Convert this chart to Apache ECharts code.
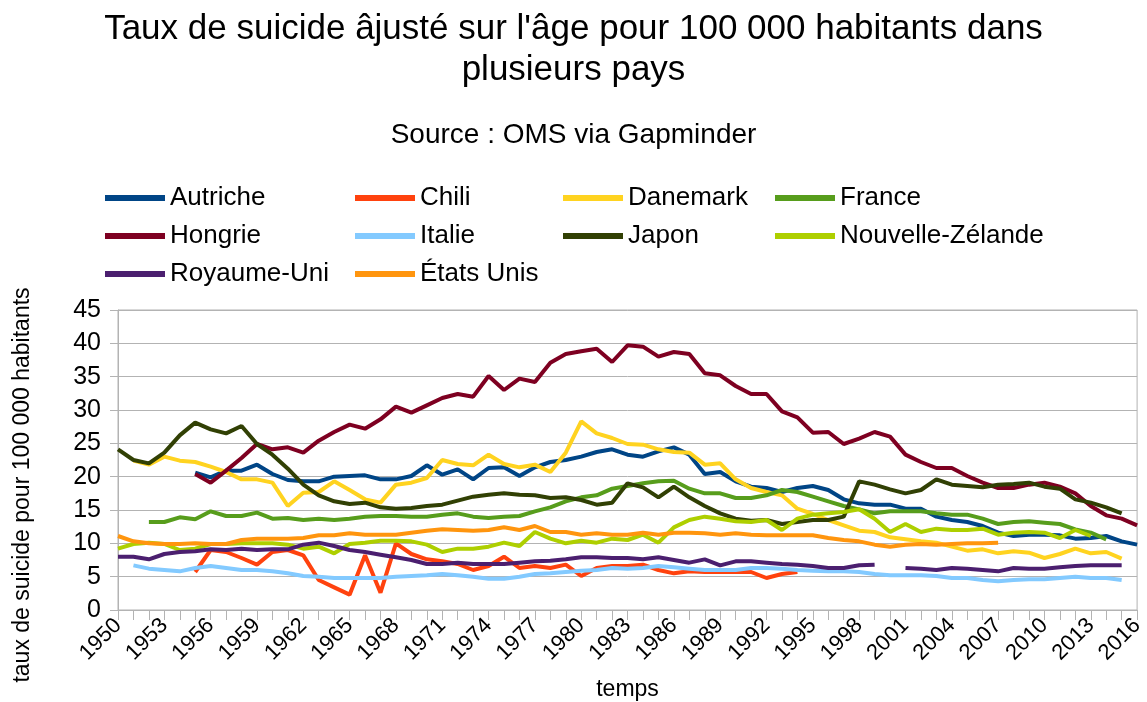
<!DOCTYPE html>
<html lang="fr" style="height: 100%">
<head>
  <meta charset="utf-8">
  <title>taux de suicide</title>
  <script src="https://cdn.jsdelivr.net/npm/echarts@6/dist/echarts.min.js"></script>
</head>
<body style="height: 100%; margin: 0; background: #fff">
<div id="main" style="width: 1147px; height: 702px"></div>

<script type="text/javascript">
  // années 1950 -> 2016
  var firstYear = 1950, lastYear = 2016;
  var years = [];
  for (var y = firstYear; y <= lastYear; y++) years.push(String(y));

  // valeurs (début de série = année indiquée)
  var autricheStart = 1955;
  var autriche = [20.6, 19.9, 20.9, 20.9, 21.8,
    20.4, 19.5, 19.3, 19.3, 20.0, 20.1, 20.2, 19.6, 19.6, 20.1,
    21.7, 20.3, 21.1, 19.6, 21.3, 21.4, 20.1, 21.4, 22.2, 22.5,
    23.0, 23.7, 24.1, 23.3, 23.0, 23.8, 24.4, 23.3, 20.4, 20.7,
    19.3, 18.5, 18.3, 17.7, 18.3, 18.6, 18.0, 16.6, 16.0, 15.8,
    15.8, 15.2, 15.2, 14.0, 13.5, 13.2, 12.6, 11.6, 11.1, 11.3,
    11.3, 11.2, 10.7, 10.8, 11.1, 10.3, 9.8];

  var chiliStart = 1955;
  var chili = [5.7, 9.0, 8.7, 7.8, 6.8,
    8.7, 9.0, 8.2, 4.5, 3.4, 2.3, 8.2, 2.6, 10.0, 8.4,
    7.6, 7.3, 6.9, 6.0, 6.6, 8.0, 6.3, 6.6, 6.3, 6.8,
    5.1, 6.3, 6.6, 6.6, 6.8, 6.0, 5.5, 5.8, 5.7, 5.7,
    5.7, 5.7, 4.8, 5.4, 5.7];

  var danemarkStart = 1951;
  var danemark = [22.4, 21.8, 23.0, 22.4, 22.2, 21.5, 20.7, 19.6, 19.6,
    19.1, 15.6, 17.6, 17.7, 19.3, 18.0, 16.6, 16.1, 18.8, 19.1,
    19.8, 22.5, 21.9, 21.7, 23.3, 21.9, 21.4, 21.8, 20.7, 23.6,
    28.3, 26.5, 25.8, 24.9, 24.8, 24.1, 23.7, 23.6, 21.8, 22.0,
    19.6, 18.3, 17.7, 17.2, 15.2, 14.4, 13.5, 12.7, 11.9, 11.7,
    10.9, 10.6, 10.3, 10.1, 9.5, 8.9, 9.1, 8.5, 8.8, 8.6,
    7.8, 8.4, 9.2, 8.5, 8.7, 7.7];

  var franceStart = 1952;
  var france = [13.2, 13.2, 13.9, 13.6, 14.8, 14.1, 14.1, 14.6,
    13.7, 13.8, 13.5, 13.7, 13.5, 13.7, 14.0, 14.1, 14.1, 14.0,
    14.0, 14.3, 14.5, 14.0, 13.8, 14.0, 14.1, 14.8, 15.4, 16.3,
    16.9, 17.2, 18.2, 18.6, 19.0, 19.3, 19.4, 18.2, 17.5, 17.5,
    16.8, 16.8, 17.2, 18.0, 17.7, 17.0, 16.3, 15.6, 15.1, 14.5,
    14.8, 14.8, 14.8, 14.5, 14.3, 14.3, 13.7, 12.9, 13.2, 13.3,
    13.1, 12.9, 12.1, 11.6, 10.6];

  var hongrieStart = 1955;
  var hongrie = [20.4, 19.1, 20.9, 22.8, 24.9,
    24.1, 24.4, 23.6, 25.4, 26.7, 27.8, 27.2, 28.6, 30.5, 29.6,
    30.7, 31.8, 32.4, 32.0, 35.1, 33.0, 34.7, 34.2, 37.1, 38.4,
    38.8, 39.2, 37.2, 39.7, 39.5, 38.0, 38.7, 38.4, 35.5, 35.2,
    33.6, 32.4, 32.4, 29.8, 28.9, 26.6, 26.7, 24.9, 25.7, 26.7,
    26.0, 23.3, 22.2, 21.3, 21.3, 20.1, 19.1, 18.3, 18.3, 18.8,
    19.1, 18.5, 17.5, 15.6, 14.2, 13.7, 12.7];

  var italieStart = 1951;
  var italie = [6.7, 6.2, 6.0, 5.8, 6.3, 6.6, 6.3, 6.0, 6.0,
    5.8, 5.5, 5.1, 5.0, 4.8, 4.8, 4.8, 4.8, 5.0, 5.1,
    5.2, 5.4, 5.2, 5.0, 4.7, 4.7, 5.0, 5.4, 5.5, 5.7,
    5.9, 6.0, 6.3, 6.2, 6.3, 6.6, 6.4, 6.2, 6.0, 6.0,
    6.0, 6.3, 6.3, 6.2, 6.0, 5.9, 5.8, 5.8, 5.7, 5.4,
    5.2, 5.2, 5.2, 5.1, 4.8, 4.8, 4.5, 4.3, 4.5, 4.6,
    4.6, 4.8, 5.0, 4.8, 4.8, 4.5];

  var japonStart = 1950;
  var japon = [24.1, 22.5, 22.0, 23.6, 26.2, 28.1, 27.1, 26.5, 27.6, 24.9,
    23.3, 21.2, 18.8, 17.2, 16.3, 15.9, 16.1, 15.4, 15.2, 15.3,
    15.6, 15.8, 16.4, 17.0, 17.3, 17.5, 17.3, 17.2, 16.8, 16.9,
    16.5, 15.8, 16.1, 19.0, 18.4, 16.9, 18.5, 16.9, 15.6, 14.5,
    13.7, 13.4, 13.5, 12.9, 13.2, 13.5, 13.5, 14.0, 19.3, 18.8,
    18.1, 17.5, 18.0, 19.6, 18.8, 18.6, 18.4, 18.8, 18.9, 19.1,
    18.5, 18.2, 16.6, 16.1, 15.4, 14.5];

  var nzStart = 1950;
  var nouvelleZelande = [9.2, 9.9, 10.1, 9.9, 9.0, 9.2, 9.9, 9.9, 10.0, 10.0,
    10.0, 9.8, 9.2, 9.5, 8.5, 9.9, 10.1, 10.4, 10.4, 10.3,
    9.8, 8.7, 9.2, 9.2, 9.5, 10.1, 9.6, 11.7, 10.7, 10.0,
    10.4, 10.1, 10.7, 10.5, 11.3, 10.1, 12.4, 13.5, 14.0, 13.7,
    13.3, 13.2, 13.5, 12.0, 13.7, 14.3, 14.5, 14.7, 15.1, 13.7,
    11.7, 12.9, 11.7, 12.2, 12.0, 12.0, 12.2, 11.3, 11.6, 11.7,
    11.6, 10.8, 12.0, 11.1];

  var ukStart = 1950;
  var royaumeUni = [8.0, 8.0, 7.6, 8.4, 8.7, 8.8, 9.1, 9.0, 9.2, 9.0,
    9.1, 9.1, 9.8, 10.1, 9.6, 9.0, 8.7, 8.3, 7.9, 7.5,
    6.9, 6.9, 7.1, 6.9, 6.9, 6.9, 7.1, 7.3, 7.4, 7.6,
    7.9, 7.9, 7.8, 7.8, 7.6, 7.9, 7.5, 7.1, 7.6, 6.7,
    7.3, 7.3, 7.1, 6.9, 6.8, 6.6, 6.3, 6.3, 6.7, 6.8,
    null, 6.3, 6.2, 6.0, 6.3, 6.2, 6.0, 5.8, 6.3, 6.2,
    6.2, 6.4, 6.6, 6.7, 6.7, 6.7];

  var usaStart = 1950;
  var etatsUnis = [11.1, 10.3, 10.0, 9.9, 9.9, 10.0, 9.9, 9.9, 10.5, 10.7,
    10.7, 10.7, 10.8, 11.2, 11.2, 11.5, 11.3, 11.3, 11.3, 11.6,
    11.9, 12.1, 12.0, 11.9, 12.0, 12.4, 12.0, 12.6, 11.7, 11.7,
    11.3, 11.5, 11.3, 11.3, 11.6, 11.3, 11.6, 11.6, 11.5, 11.3,
    11.5, 11.3, 11.2, 11.2, 11.2, 11.2, 10.8, 10.5, 10.3, 9.8,
    9.5, 9.8, 9.9, 9.8, 9.9, 10.0, 10.0, 10.1];

  var yTicks = {min: 0, max: 45, step: 5};

  // place chaque série sur l'axe des années
  function pad(start, values) {
    var out = [];
    for (var i = firstYear; i < start; i++) out.push(null);
    return out.concat(values);
  }

  var countries = [
    {name: 'Autriche', color: '#004586', data: pad(autricheStart, autriche)},
    {name: 'Chili', color: '#ff420e', data: pad(chiliStart, chili)},
    {name: 'Danemark', color: '#ffd320', data: pad(danemarkStart, danemark)},
    {name: 'France', color: '#579d1c', data: pad(franceStart, france)},
    {name: 'Hongrie', color: '#7e0021', data: pad(hongrieStart, hongrie)},
    {name: 'Italie', color: '#83caff', data: pad(italieStart, italie)},
    {name: 'Japon', color: '#314004', data: pad(japonStart, japon)},
    {name: 'Nouvelle-Zélande', color: '#aecf00', data: pad(nzStart, nouvelleZelande)},
    {name: 'Royaume-Uni', color: '#4b1f6f', data: pad(ukStart, royaumeUni)},
    {name: 'États Unis', color: '#ff950e', data: pad(usaStart, etatsUnis)}
  ];

  var font = 'Liberation Sans';
  var gridColor = '#b3b3b3';

  function legendCol(left, names) {
    return {
      orient: 'vertical',
      left: left,
      top: 185,
      padding: 0,
      itemWidth: 60,
      itemHeight: 6,
      itemGap: 12,
      icon: 'rect',
      data: names,
      textStyle: {fontFamily: font, fontSize: 26, color: '#000'}
    };
  }

  var mychart = echarts.init(document.getElementById('main'));

  mychart.setOption({
    animation: false,
    backgroundColor: '#fff',
    title: [
      {
        text: "Taux de suicide âjusté sur l'âge pour 100 000 habitants dans\nplusieurs pays",
        left: 'center',
        top: 4,
        textStyle: {fontFamily: font, fontSize: 35, fontWeight: 'normal', color: '#000', lineHeight: 41}
      },
      {
        text: 'Source : OMS via Gapminder',
        left: 'center',
        top: 116,
        textStyle: {fontFamily: font, fontSize: 28, fontWeight: 'normal', color: '#000'}
      }
    ],
    legend: [
      legendCol(105, ['Autriche', 'Hongrie', 'Royaume-Uni']),
      legendCol(355, ['Chili', 'Italie', 'États Unis']),
      legendCol(563, ['Danemark', 'Japon']),
      legendCol(775, ['France', 'Nouvelle-Zélande'])
    ],
    grid: {
      left: 118,
      right: 6,
      top: 310,
      bottom: 81,
      show: true,
      borderColor: gridColor,
      borderWidth: 1
    },
    xAxis: {
      type: 'category',
      data: years,
      boundaryGap: false,
      name: 'temps',
      nameLocation: 'middle',
      nameGap: 68,
      nameTextStyle: {fontFamily: font, fontSize: 23, color: '#000'},
      axisLine: {lineStyle: {color: gridColor}},
      axisTick: {show: true, interval: 0, length: 10, lineStyle: {color: gridColor}},
      axisLabel: {interval: 2, rotate: 45, fontFamily: font, fontSize: 22, color: '#000', margin: 12},
      splitLine: {show: false}
    },
    yAxis: {
      type: 'value',
      min: yTicks.min,
      max: yTicks.max,
      interval: yTicks.step,
      name: 'taux de suicide pour 100 000 habitants',
      nameLocation: 'middle',
      nameGap: 84,
      nameTextStyle: {fontFamily: font, fontSize: 23, color: '#000', padding: [0, 50, 0, 0]},
      axisLine: {show: true, lineStyle: {color: gridColor}},
      axisTick: {show: true, length: 8, lineStyle: {color: gridColor}},
      axisLabel: {fontFamily: font, fontSize: 25, color: '#000', margin: 17},
      splitLine: {lineStyle: {color: gridColor}}
    },
    series: countries.map(function (c) {
      return {
        name: c.name,
        type: 'line',
        data: c.data,
        showSymbol: false,
        connectNulls: false,
        itemStyle: {color: c.color},
        lineStyle: {color: c.color, width: 4}
      };
    })
  });

  window.addEventListener('resize', mychart.resize);
</script>
</body>
</html>
